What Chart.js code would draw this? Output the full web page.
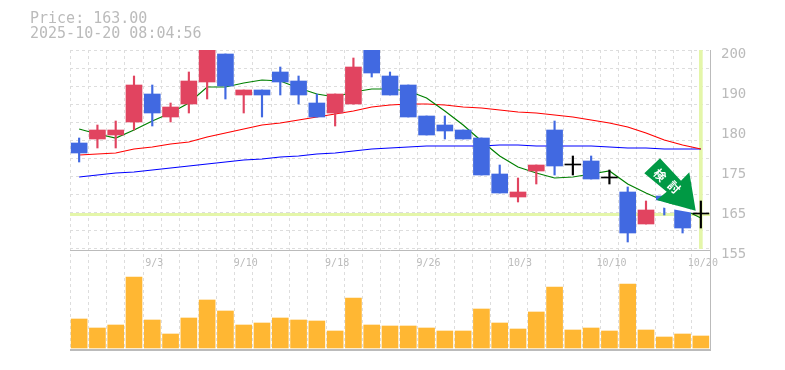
<!DOCTYPE html>
<html>
<head>
<meta charset="utf-8">
<style>
    html, body { margin: 0; padding: 0; background: #fff; }
    canvas { display: block; }
</style>
<script src="https://cdn.jsdelivr.net/npm/chart.js@4"></script>
</head>
<body>
<canvas id="priceChart" width="785" height="370"></canvas>
<script>
const dates = ['8/28','8/29','9/1','9/2','9/3','9/4','9/5','9/8','9/9','9/10','9/11','9/12','9/16','9/17','9/18','9/19','9/22','9/24','9/25','9/26','9/29','9/30','10/1','10/2','10/3','10/6','10/7','10/8','10/9','10/10','10/14','10/15','10/16','10/17','10/20']
const shownDates = ['9/3','9/10','9/18','9/26','10/3','10/10','10/20']

// the source axis prints these labels at even 10 unit steps
const priceTicks = [155, 165, 175, 185, 195, 205]
const priceLabels = ['155', '165', '175', '180', '190', '200']

const opens = [182,183,184,187.25,194.25,188.5,191.75,197.25,204.25,194,195.25,199.75,197.5,192,189.5,191.75,205.25,198.75,196.5,188.75,186.5,185.25,183.25,174.25,168.5,175,185.25,176.5,177.5,173.25,169.75,161.75,168.75,165.5,164.25]
const closes = [179.5,185.25,185.25,196.5,189.5,191,197.5,205.25,196.25,195.25,194,197.25,194,188.5,194.25,201,199.5,194,188.5,184,185,183,174,169.5,169.75,176.5,176.25,176.5,173,173.25,159.5,165.25,167.5,160.75,164.25]
const highs = [183.25,186.5,187.5,198.75,196.5,192,199.75,205.25,204.25,195.25,195.25,201,198.75,194.25,194.25,203.25,205.25,199.75,196.5,188.75,188.75,185.25,183.25,176.5,173.25,176.5,187.5,178.75,178.75,175.25,171,167.5,168.75,165.5,167.5]
const lows = [177.25,180.75,180.75,185.25,186.25,187.25,189.5,193,193,189.5,188.5,194,191.75,188.5,186.25,191.75,198.5,194,188.5,184,183,183,174,169.5,167.25,171.75,174,174,173,171.75,157.25,161.75,164,159.5,160.75]

const maShort = [185.5,184.25,183.25,185.25,187.5,189.5,192,196,196,197,197.75,197.5,195.75,194.25,193.5,194.75,195.5,195.5,195,193.25,190,186.5,182.5,178.75,176,174.5,173.25,173.5,174.25,175,171.75,169.5,167.5,165.5,163.25]
const maMid = [179,179.25,179.5,180.5,181,181.75,182.25,183.5,184.5,185.5,186.5,187,187.75,188.5,189.25,190,191,191.5,191.75,191.75,191.5,191,190.75,190.25,189.75,189.5,189,188.5,187.75,187,186,184.5,182.75,181.5,180.5]
const maLong = [173.5,174,174.5,174.75,175.25,175.75,176.25,176.75,177.25,177.75,178,178.5,178.75,179.25,179.5,180,180.5,180.75,181,181.25,181.25,181.25,181.25,181.5,181.5,181.25,181.25,181.25,181.25,181,180.75,180.75,180.5,180.5,180.5]

const volumes = [2900,2000,2300,7100,2800,1400,3000,4800,3700,2300,2500,3000,2800,2700,1700,5000,2300,2200,2200,2000,1700,1700,3900,2500,1900,3600,6100,1800,2000,1700,6400,1800,1100,1400,1200]

const headerLines = ['Price: 163.00', '2025-10-20 08:04:56']
const guideLevel = 164.1
const signalText = ['検', '討']

const RED = '#e14460'
const BLUE = '#4169e1'
const LIME = '#e4f6a9'
const FRAME = '#bbb'
const MONO = 'DejaVu Sans Mono'
const PRICE_BOTTOM = 130.25

function candleColor(index) {
    if (closes[index] > opens[index]) return RED
    if (closes[index] < opens[index]) return BLUE
    return '#000'
}

// doji have no body, give them a hairline so the cross shows
const bodies = opens.map((open, i) => open === closes[i] ? [open, open + 0.25] : [open, closes[i]])
const wicks = lows.map((low, i) => [low, highs[i]])
const lastMark = dates.map((d, i) => i === dates.length - 1 ? [155.6, 205.25] : null)

function fillShape(c, points, color) {
    c.fillStyle = color
    c.beginPath()
    points.forEach((p, i) => i === 0 ? c.moveTo(p[0], p[1]) : c.lineTo(p[0], p[1]))
    c.closePath()
    c.fill()
}

const signalArrow = {
    id: 'signalArrow',
    afterDatasetsDraw(chart) {
        const c = chart.ctx
        c.save()
        // white shadow under the arrow's lower edge
        fillShape(c, [[656.7, 200], [695.7, 210.7], [691, 212.5], [660, 207], [652, 204]], '#fff')
        fillShape(c, [[644.3, 173.3], [660, 158.3], [681, 180.7], [689.3, 172.3], [695.7, 210.7], [656.7, 200], [666.7, 191.7]], '#009944')
        c.fillStyle = '#fff'
        c.font = 'bold 12px "Noto Sans CJK JP"'
        c.textAlign = 'center'
        c.textBaseline = 'middle'
        const spots = [[660, 175], [674.3, 187.3]]
        signalText.forEach((ch, i) => {
            c.save()
            c.translate(spots[i][0], spots[i][1])
            c.rotate(Math.PI / 4)
            c.fillText(ch, 0, 0)
            c.restore()
        })
        c.restore()
    }
}

function priceGridColor(c) {
    if (!c.tick) return 'transparent'
    if (c.tick.value === guideLevel) return LIME
    if (c.tick.value === PRICE_BOTTOM) return FRAME
    return 'transparent'
}

function priceGridWidth(c) {
    if (!c.tick) return 1
    if (c.tick.value === guideLevel) return 3
    if (c.tick.value === PRICE_BOTTOM) return 2
    return 1
}

const ctx = document.getElementById('priceChart')

new Chart(ctx, {
    type: 'bar',
    plugins: [signalArrow],
    data: {
        labels: dates,
        datasets: [
            {
                label: 'last', yAxisID: 'y', data: lastMark, grouped: false,
                backgroundColor: LIME, barThickness: 3, order: 9
            },
            {
                label: 'volume', yAxisID: 'yVol', data: volumes, grouped: false,
                backgroundColor: '#ffb733', barThickness: 16, order: 8
            },
            {type: 'line', label: 'short', yAxisID: 'y', data: maShort, borderColor: '#008000', borderWidth: 1.2, pointRadius: 0, order: 7},
            {type: 'line', label: 'mid', yAxisID: 'y', data: maMid, borderColor: '#ff0000', borderWidth: 1.2, pointRadius: 0, order: 7},
            {type: 'line', label: 'long', yAxisID: 'y', data: maLong, borderColor: '#0000ff', borderWidth: 1.2, pointRadius: 0, order: 7},
            {
                label: 'wick', yAxisID: 'y', data: wicks, grouped: false,
                backgroundColor: (c) => candleColor(c.dataIndex), barThickness: 1.5, order: 6
            },
            {
                label: 'body', yAxisID: 'y', data: bodies, grouped: false,
                backgroundColor: (c) => candleColor(c.dataIndex), barThickness: 16, order: 5
            }
        ]
    },
    options: {
        responsive: false,
        animation: false,
        layout: { padding: { left: 30, right: 0, top: 0, bottom: 20 } },
        plugins: {
            legend: { display: false },
            tooltip: { enabled: false },
            title: {
                display: true,
                text: headerLines,
                align: 'start',
                color: FRAME,
                font: { family: MONO, size: 15, weight: 'normal', lineHeight: 1 },
                padding: { top: 12, bottom: 8 }
            }
        },
        scales: {
            x: {
                // sits on the line between the price and volume panels
                position: { y: 155 },
                border: { color: FRAME, dash: [3, 3] },
                grid: { color: '#ddd', drawTicks: false },
                ticks: {
                    autoSkip: false, maxRotation: 0, padding: 6, labelOffset: 2,
                    color: FRAME,
                    font: { family: MONO, size: 10 },
                    callback: function (value) {
                        const label = this.getLabelForValue(value)
                        return shownDates.includes(label) ? label : ''
                    }
                }
            },
            y: {
                position: 'right',
                min: PRICE_BOTTOM,
                max: 205.25,
                afterBuildTicks: (scale) => {
                    scale.ticks = [PRICE_BOTTOM, guideLevel, ...priceTicks].map(value => ({ value }))
                },
                afterFit: (scale) => { scale.width = 75 },
                border: { color: FRAME },
                grid: {
                    drawTicks: false,
                    color: priceGridColor,
                    lineWidth: priceGridWidth
                },
                ticks: {
                    padding: 11, labelOffset: 3, crossAlign: 'near',
                    color: FRAME,
                    font: { family: MONO, size: 14 },
                    callback: (value) => {
                        const at = priceTicks.indexOf(value)
                        return at < 0 ? '' : priceLabels[at]
                    }
                }
            },
            yGrid: {
                position: 'left',
                reverse: true,
                min: 0,
                max: 300,
                afterFit: (scale) => { scale.width = 40 },
                border: { display: false, dash: [3, 3] },
                grid: {
                    drawTicks: false,
                    color: (c) => c.tick && c.tick.value <= 198 ? '#ddd' : 'transparent'
                },
                ticks: { display: false, stepSize: 18, includeBounds: false }
            },
            yVol: { display: false, min: -200, max: 29800 }
        }
    }
})
</script>
</body>
</html>
